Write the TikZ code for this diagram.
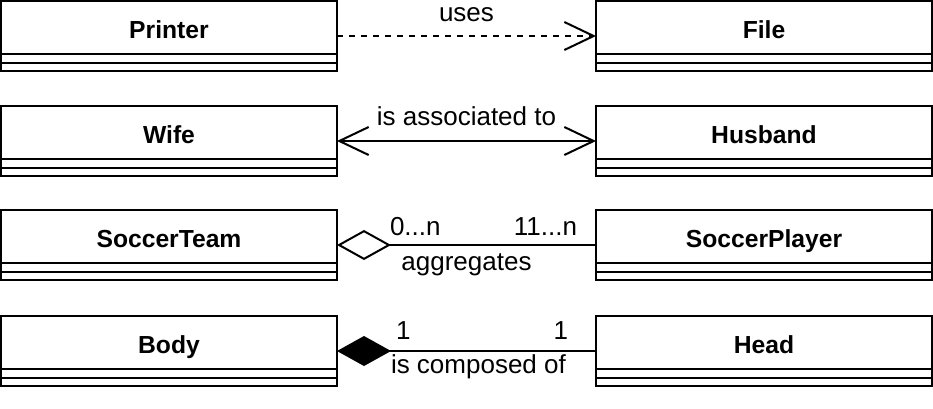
\documentclass[tikz,border=0pt]{standalone}
\usepackage{fontspec}
\setmainfont{Liberation Sans}
\usetikzlibrary{arrows.meta,positioning,fit}

\begin{document}
\begin{tikzpicture}[
  x=0.75pt, y=-0.75pt,
  classname/.style={draw, line width=1.5pt, outer sep=0pt, inner sep=0pt, minimum width=252pt, minimum height=39.75pt, text height=15.8pt, text depth=0pt, font=\fontsize{18.5}{22}\selectfont\bfseries},
  compart/.style={draw, line width=1.5pt, outer sep=0pt, inner sep=0pt, minimum width=252pt, minimum height=6.375pt},
  classbox/.style={inner sep=0pt, outer sep=0pt},
  conn/.style={line width=1.5pt},
  lbl/.style={font=\fontsize{19.5}{22}\selectfont, inner sep=0pt, text depth=0pt}
]
\useasboundingbox (0,0) rectangle (933,408);

\node[classname] (printer) at (169,27.5) {Printer};
\node[classname] (file) at (764,27.5) {File};
\node[classname] (wife) at (169,132.5) {Wife};
\node[classname] (husband) at (764,132.5) {Husband};
\node[classname] (team) at (169,236.5) {SoccerTeam};
\node[classname] (player) at (764,236.5) {SoccerPlayer};
\node[classname] (body) at (169,342.5) {Body};
\node[classname] (head) at (764,342.5) {Head};

\foreach \c in {printer,file,wife,husband,team,player,body,head} {
  \node[compart, below=0pt of \c] (\c-attr) {};
  \node[compart, below=0pt of \c-attr] (\c-ops) {};
  \node[classbox, fit=(\c)(\c-ops)] (\c-box) {};
}

\draw[conn, dash pattern=on 4.5pt off 4.5pt, -{Straight Barb[length=22pt, width=21pt]}] (printer-box.east) -- node[lbl, above=10pt] {uses} (file-box.west);
\draw[conn, {Straight Barb[length=22pt, width=21pt]}-{Straight Barb[length=22pt, width=21pt]}] (wife-box.east) -- node[lbl, above=11pt] {is associated to} (husband-box.west);
\draw[conn, {Diamond[open, length=40.5pt, width=22.5pt]}-] (team-box.east) -- node[lbl, anchor=base, yshift=-18.75pt] {aggregates} (player-box.west)
  node[lbl, at start, anchor=south west, xshift=39pt, yshift=6.75pt] {0...n}
  node[lbl, at end, anchor=south east, xshift=-13.5pt, yshift=6.75pt] {11...n};
\draw[conn, {Diamond[length=40.5pt, width=22.5pt]}-] (body-box.east) -- (head-box.west)
  node[lbl, at start, anchor=base west, xshift=39.75pt, yshift=-16.5pt] {is composed of}
  node[lbl, at start, anchor=south west, xshift=43.5pt, yshift=8.25pt] {1}
  node[lbl, at end, anchor=south east, xshift=-20.25pt, yshift=8.25pt] {1};
\end{tikzpicture}
\end{document}
